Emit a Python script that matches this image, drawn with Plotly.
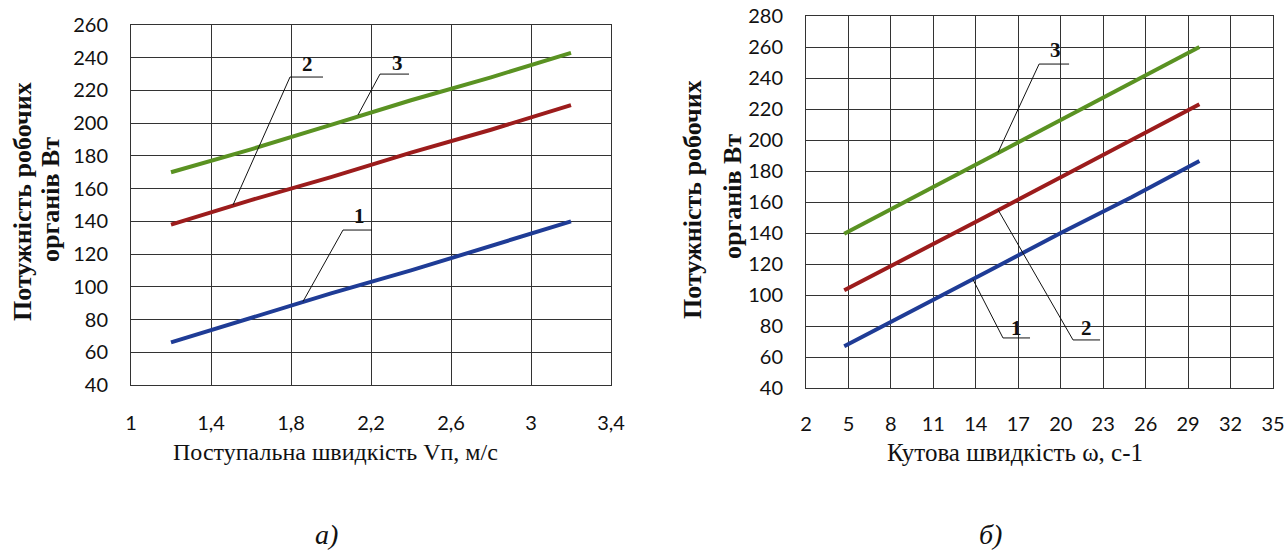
import plotly.graph_objects as go

W, H = 1287, 551

# ---- data: chart a) ----
va = [1.2, 1.6, 2.0, 2.4, 2.8, 3.2]
a_line1 = [66, 81, 96, 110, 125, 140]
a_line2 = [138, 153, 167, 182, 196, 211]
a_line3 = [170, 184, 199, 214, 228, 243]
a_xticks = [1, 1.4, 1.8, 2.2, 2.6, 3, 3.4]
a_xticktext = ["1", "1,4", "1,8", "2,2", "2,6", "3", "3,4"]
a_yticks = list(range(40, 261, 20))

# ---- data: chart b) ----
wb = [4.7, 10, 15, 20, 25, 29.8]
b_line1 = [67, 92, 116, 140, 163, 186.5]
b_line2 = [103, 128, 152, 176, 200, 223]
b_line3 = [139.5, 165, 189, 213, 237, 260]
b_xticks = list(range(2, 36, 3))
b_yticks = list(range(40, 281, 20))

series_names = ["1", "2", "3"]
colors = ["#1f3c96", "#9c1c1c", "#5a9222"]

SERIF = "Liberation Serif"
SANS = "Lato"

fig = go.Figure()
for ys, c, n in zip([a_line1, a_line2, a_line3], colors, series_names):
    fig.add_trace(go.Scatter(x=va, y=ys, mode="lines", name=n,
                             line=dict(color=c, width=4), xaxis="x", yaxis="y"))
for ys, c, n in zip([b_line1, b_line2, b_line3], colors, series_names):
    fig.add_trace(go.Scatter(x=wb, y=ys, mode="lines", name=n,
                             line=dict(color=c, width=4), xaxis="x2", yaxis="y2"))

def px_x(p):
    return p / W

def px_y(p):
    return 1 - p / H

axis_common = dict(showgrid=True, gridcolor="#333333", gridwidth=1,
                   showline=True, linecolor="#333333", linewidth=1, mirror=True,
                   zeroline=False, ticks="", automargin=False,
                   tickfont=dict(family=SANS, size=20, color="#111"),
                   fixedrange=True)

fig.update_layout(
    width=W, height=H, margin=dict(l=0, r=0, t=0, b=0),
    paper_bgcolor="white", plot_bgcolor="white", showlegend=False,
    xaxis=dict(domain=[px_x(131), px_x(611)], range=[1, 3.4], tickvals=a_xticks,
               ticktext=a_xticktext, anchor="y", ticklabelstandoff=20, **axis_common),
    yaxis=dict(domain=[px_y(385), px_y(25)], range=[40, 260], tickvals=a_yticks,
               anchor="x", ticklabelstandoff=18, **axis_common),
    xaxis2=dict(domain=[px_x(806), px_x(1273)], range=[2, 35], tickvals=b_xticks,
                anchor="y2", ticklabelstandoff=18, **axis_common),
    yaxis2=dict(domain=[px_y(388), px_y(16)], range=[40, 280], tickvals=b_yticks,
                anchor="x2", ticklabelstandoff=18, **axis_common),
)

ann = []
shapes = []

# axis titles (two separate lines for tight leading)
ytitle1 = "<b>Потужність робочих</b>"
ytitle2 = "<b>органів Вт</b>"
for txt, cx, cy in [(ytitle1, 22, 202), (ytitle2, 50, 200),
                    (ytitle1, 692, 200), (ytitle2, 732, 196)]:
    ann.append(dict(text=txt, x=px_x(cx), y=px_y(cy), xref="paper", yref="paper",
                    textangle=-90, showarrow=False,
                    font=dict(family=SERIF, size=26, color="#111"),
                    xanchor="center", yanchor="middle", borderpad=0))
ann.append(dict(text="Поступальна швидкість Vп, м/с", x=px_x(335), y=px_y(452),
                xref="paper", yref="paper", showarrow=False,
                font=dict(family=SERIF, size=24, color="#111"), xanchor="center", yanchor="middle"))
ann.append(dict(text="Кутова швидкість ω, с-1", x=px_x(1015), y=px_y(452),
                xref="paper", yref="paper", showarrow=False,
                font=dict(family=SERIF, size=25, color="#111"), xanchor="center", yanchor="middle"))
ann.append(dict(text="<i>а)</i>", x=px_x(326), y=0, xref="paper", yref="paper",
                showarrow=False, font=dict(family=SERIF, size=28, color="#111"),
                xanchor="center", yanchor="bottom", borderpad=0))
ann.append(dict(text="<i>б)</i>", x=px_x(990), y=0, xref="paper", yref="paper",
                showarrow=False, font=dict(family=SERIF, size=28, color="#111"),
                xanchor="center", yanchor="bottom", borderpad=0))

# callouts: (label, label x, label y, underline x0, x1, underline y, point x, point y, x-axis, y-axis)
callouts = [
    ("2", 1.88, 236, 1.795, 1.96, 228.2, 1.51, 150, "x", "y"),
    ("3", 2.33, 237, 2.245, 2.39, 230, 2.135, 205, "x", "y"),
    ("1", 2.14, 143, 2.06, 2.205, 134.7, 1.86, 91, "x", "y"),
    ("3", 19.6, 258, 18.47, 20.59, 249, 15.57, 192, "x2", "y2"),
    ("1", 16.84, 79, 15.92, 17.83, 72.3, 13.8, 110, "x2", "y2"),
    ("2", 21.8, 79, 20.87, 22.78, 71, 15.57, 155, "x2", "y2"),
]
for lab, lx, ly, ux0, ux1, uy, ptx, pty, xr, yr in callouts:
    shapes.append(dict(type="line", xref=xr, yref=yr, x0=ux0, x1=ux1, y0=uy, y1=uy,
                       line=dict(color="#111", width=1)))
    shapes.append(dict(type="line", xref=xr, yref=yr, x0=ux0, x1=ptx, y0=uy, y1=pty,
                       line=dict(color="#111", width=1)))
    ann.append(dict(text="<b>" + lab + "</b>", x=lx, y=ly, xref=xr, yref=yr, showarrow=False,
                    font=dict(family=SERIF, size=21, color="#111"),
                    xanchor="center", yanchor="middle"))

fig.update_layout(annotations=ann, shapes=shapes)
fig.write_html("out.html", config={"displayModeBar": False},
               post_script="document.body.style.margin='0';document.body.style.overflow='hidden';")
